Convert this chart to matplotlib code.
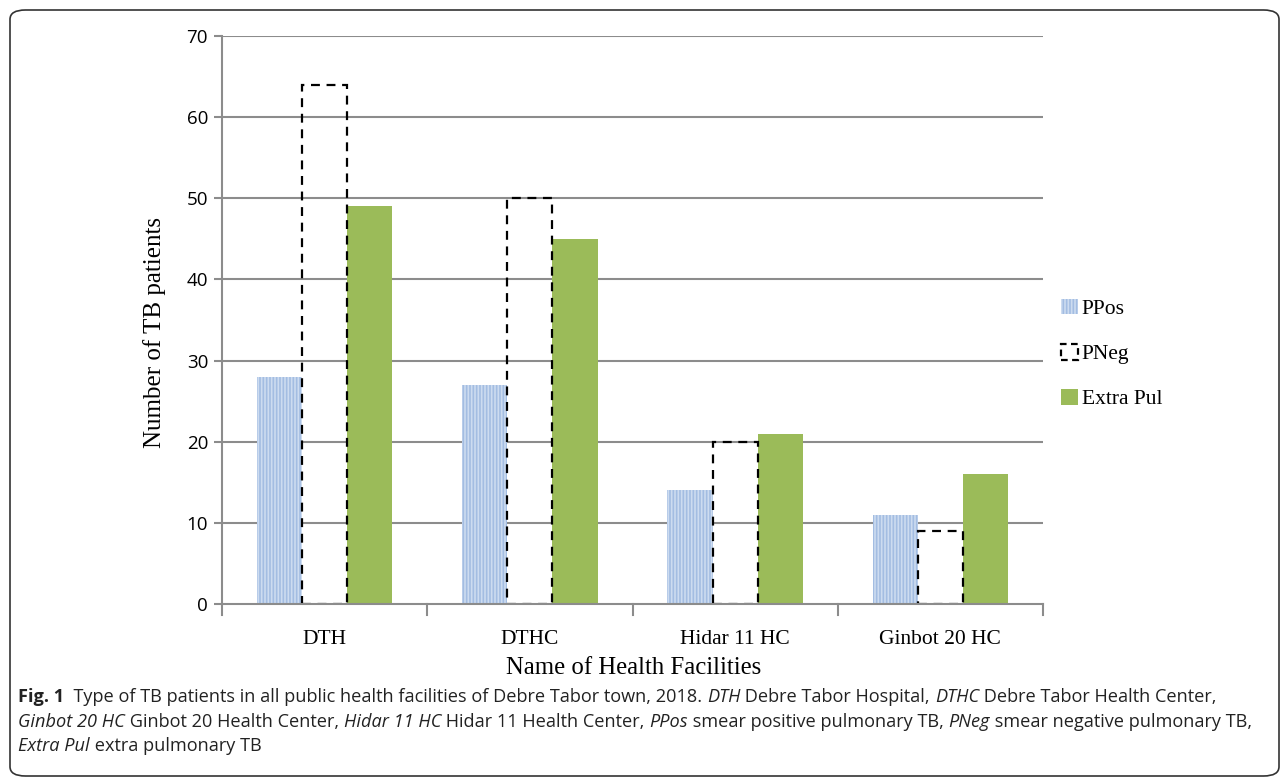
import matplotlib
matplotlib.use("Agg")
import matplotlib.pyplot as plt
import numpy as np
from matplotlib.patches import FancyBboxPatch, Patch

categories = ["DTH", "DTHC", "Hidar 11 HC", "Ginbot 20 HC"]
ppos = [28, 27, 14, 11]
pneg = [64, 50, 20, 9]
extra = [49, 45, 21, 16]
series_names = ["PPos", "PNeg", "Extra Pul"]
yticks = [0, 10, 20, 30, 40, 50, 60, 70]

W, H = 1285, 779
fig = plt.figure(figsize=(W / 100, H / 100), dpi=100)
plt.rcParams['hatch.linewidth'] = 1.2

ax = fig.add_axes([222 / W, 1 - 604 / H, (1043 - 222) / W, (604 - 36) / H])
x = np.arange(len(categories))
bw = 0.22
grid_c = "#8c8c8c"

for v in yticks[1:]:
    ax.axhline(v, color=grid_c, lw=1.5, zorder=1)

ax.bar(x - bw, ppos, bw, color="#a3bde2", edgecolor="#cddcf0", hatch="|||||", lw=0, zorder=2)
ax.bar(x, pneg, bw, fill=False, edgecolor="black", lw=1.6, linestyle=(0, (4, 3)), zorder=3)
ax.bar(x + bw, extra, bw, color="#9bbb59", lw=0, zorder=2)

ax.set_xlim(-0.5, len(categories) - 0.5)
ax.set_ylim(0, 70)
ax.set_yticks(yticks)
ax.set_yticklabels([str(v) for v in yticks], fontsize=13.5, family="Open Sans")
ax.set_xticks(x)
ax.set_xticklabels(categories, fontsize=15.5, family="Liberation Serif")
ax.tick_params(axis="x", length=0, pad=19)
ax.tick_params(axis="y", length=6, color=grid_c, width=1.5, pad=4)
for b in np.arange(-0.5, len(categories), 1.0):
    ax.plot([b, b], [0, -1.3], color=grid_c, lw=1.5, clip_on=False, zorder=1)
for s in ["top", "right"]:
    ax.spines[s].set_visible(False)
for s in ["left", "bottom"]:
    ax.spines[s].set_color(grid_c)
    ax.spines[s].set_linewidth(1.5)
    ax.spines[s].set_zorder(4)

fig.text(155 / W, 1 - 333 / H, "Number of TB patients", rotation=90, ha="center", va="center",
         fontsize=18, family="Liberation Serif")
fig.text(634 / W, 1 - 668 / H, "Name of Health Facilities", ha="center", va="center",
         fontsize=17.8, family="Liberation Serif")

handles = [
    Patch(facecolor="#a3bde2", edgecolor="#cddcf0", hatch="|||||", lw=0),
    Patch(fill=False, edgecolor="black", lw=1.6, linestyle=(0, (3, 2))),
    Patch(facecolor="#9bbb59", lw=0),
]
fig.legend(handles, series_names, loc="center left", bbox_to_anchor=(1042 / W, 1 - 354 / H),
           frameon=False, prop={"family": "Liberation Serif", "size": 15.5},
           handlelength=0.75, handleheight=0.75, handletextpad=0.2, labelspacing=1.15)

# rounded frame
frame = FancyBboxPatch((10 / W, 3 / H), (1279 - 10) / W, (769 - 3) / H,
                       boxstyle="round,pad=0,rounding_size=0.012",
                       transform=fig.transFigure, fill=False, edgecolor="#333333", lw=1.2)
fig.patches.append(frame)

# caption with mixed styles
cap_font = "Open Sans"
cap_size = 13.1
lines = [
    [("Fig. 1", "bold", "normal"), ("  Type of TB patients in all public health facilities of Debre Tabor town, 2018. ", "normal", "normal"),
     ("DTH", "normal", "italic"), (" Debre Tabor Hospital, ", "normal", "normal"),
     ("DTHC", "normal", "italic"), (" Debre Tabor Health Center,", "normal", "normal")],
    [("Ginbot 20 HC", "normal", "italic"), (" Ginbot 20 Health Center, ", "normal", "normal"),
     ("Hidar 11 HC", "normal", "italic"), (" Hidar 11 Health Center, ", "normal", "normal"),
     ("PPos", "normal", "italic"), (" smear positive pulmonary TB, ", "normal", "normal"),
     ("PNeg", "normal", "italic"), (" smear negative pulmonary TB,", "normal", "normal")],
    [("Extra Pul", "normal", "italic"), (" extra pulmonary TB", "normal", "normal")],
]
line_y = [697, 722, 746]
fig.canvas.draw()
renderer = fig.canvas.get_renderer()
for runs, yy in zip(lines, line_y):
    xpos = 18
    for txt, weight, style in runs:
        t = fig.text(xpos / W, 1 - yy / H, txt, ha="left", va="center", fontsize=cap_size,
                     family=cap_font, weight=weight, style=style, color="#222222")
        bb = t.get_window_extent(renderer=renderer)
        xpos += bb.width

fig.savefig("out.png", dpi=100)
